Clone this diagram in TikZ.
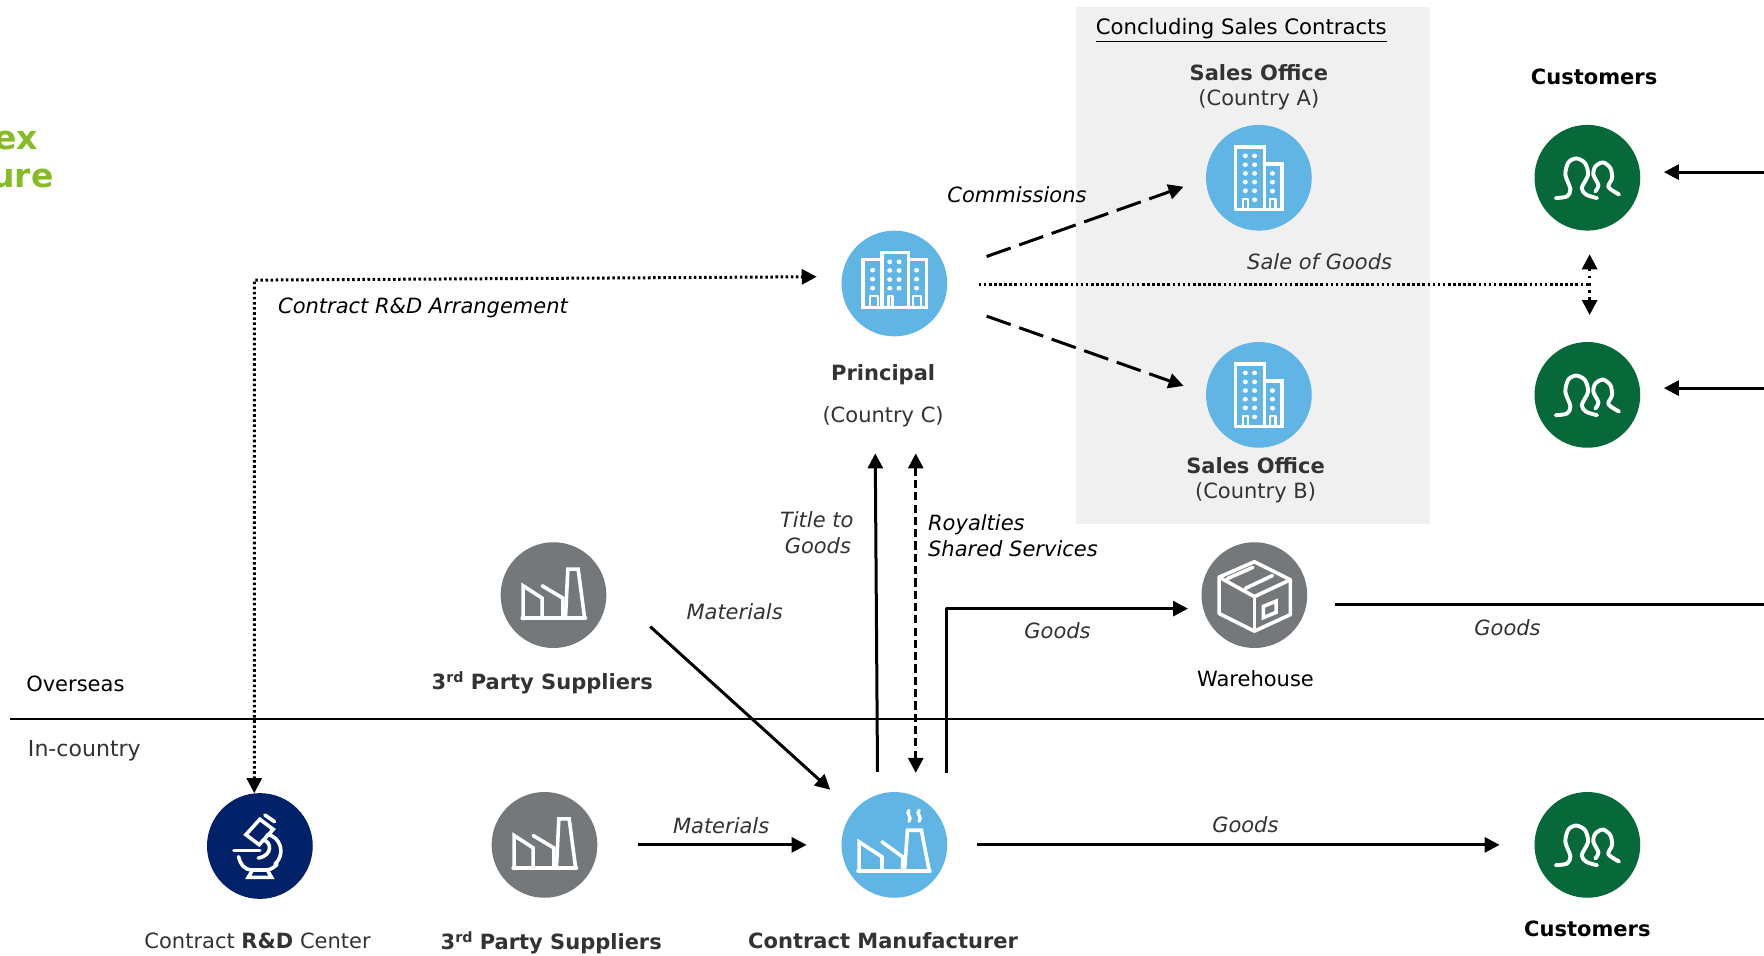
\documentclass[tikz,border=0pt]{standalone}
\usepackage{fontspec}
\setmainfont{DejaVu Sans}
\usetikzlibrary{arrows.meta,calc}
\definecolor{cblue}{HTML}{61B5E5}
\definecolor{cgreen}{HTML}{07693A}
\definecolor{cnavy}{HTML}{012169}
\definecolor{cgrey}{HTML}{75787B}
\definecolor{cpanel}{HTML}{F0F0F0}
\definecolor{ctext}{HTML}{333333}
\definecolor{clime}{HTML}{86BC25}
\tikzset{
  disc/.style={circle,minimum size=70.5pt,inner sep=0pt,outer sep=0pt,draw=none,fill=#1},
  lbl/.style={inner sep=0pt,outer sep=0pt,font=\fontsize{14}{16}\selectfont,text=black},
  lblb/.style={lbl,font=\fontsize{14}{16}\selectfont\bfseries,text=ctext},
  lblg/.style={lbl,text=ctext},
  lbli/.style={lbl,font=\fontsize{14}{16}\selectfont\itshape,text=ctext},
  icon/.style={draw=white,line width=2.4pt,line join=miter,line cap=round},
  thinicon/.style={draw=white,line width=1.6pt,line join=round,line cap=butt},
  conn/.style={draw=black,line width=2pt,-{Triangle[length=10pt,width=10pt]}},
  twotip/.style={draw=black,line width=2pt,{Triangle[length=10pt,width=10pt]}-{Triangle[length=10pt,width=10pt]}},
  plainconn/.style={draw=black,line width=2pt},
  dashlong/.style={dash pattern=on 17pt off 6pt},
  dashshort/.style={dash pattern=on 5.5pt off 2.7pt},
  dotline/.style={dash pattern=on 1.7pt off 1.7pt},
  dotsparse/.style={dash pattern=on 1.8pt off 3pt},
}
\newcommand{\supth}{3\raisebox{4.5pt}{\fontsize{9.5}{10}\selectfont rd}}
% factory drawn in zoom pixels about (1094,226)
\newcommand{\factoryicon}[1]{%
  \begin{scope}[shift={(#1)},scale=0.2963,shift={(-1094,-226)}]
    \draw[icon] (1003,297) -- (1003,198) -- (1060,235) -- (1060,292);
    \draw[icon] (1060,198) -- (1122,235) -- (1122,292);
    \draw[icon] (1130,292) -- (1137,148) -- (1168,148) -- (1187,292);
    \draw[icon] (1000,295) -- (1190,295);
  \end{scope}}
\newcommand{\plantwicon}[1]{%
  \begin{scope}[shift={(#1)},scale=0.3333,shift={(-223,-916)}]
    \draw[icon] (129,985) -- (129,908) -- (190,948) -- (190,985);
    \draw[icon] (190,908) -- (245,948) -- (245,985);
    \draw[icon] (250,985) -- (258,877) -- (295,877) -- (316,985);
    \draw[icon] (126,985) -- (318,985);
    \draw[icon,line width=2.2pt] (262,824) .. controls (252,832) and (272,842) .. (262,853);
    \draw[icon,line width=2.2pt] (289,824) .. controls (279,832) and (299,842) .. (289,853);
  \end{scope}}
\newcommand{\peopleicon}[1]{%
  \begin{scope}[shift={(#1)},scale=0.2963,shift={(-323,-234)}]
    \draw[icon,line width=2.6pt,line join=round,smooth] plot[tension=0.5] coordinates {(228,295) (262,290) (272,268) (257,225) (266,188) (290,176) (316,190) (325,225) (306,265) (320,285) (352,295)};
    \draw[icon,line width=2.6pt,line join=round,smooth] plot[tension=0.5] coordinates {(347,275) (356,256) (341,225) (347,200) (370,188) (392,205) (397,235) (386,262) (418,284)};
  \end{scope}}
\newcommand{\hqicon}[1]{%
  \begin{scope}[shift={(#1)},xscale=0.3175,yscale=0.2963,shift={(-320,-250)}]
    \draw[icon] (232,322) rectangle (285,178);
    \draw[icon] (285,322) -- (285,157) -- (360,157) -- (360,322);
    \draw[icon] (360,178) -- (410,178) -- (410,322) -- (232,322);
    \foreach \y in {210,237,264} {\fill[white] (259,\y) circle (7);\fill[white] (382,\y) circle (7);}
    \foreach \y in {185,211,238,264} {\fill[white] (307,\y) circle (7);\fill[white] (333,\y) circle (7);}
    \draw[thinicon] (251,320) -- (251,288) -- (274,288) -- (274,320);
    \draw[thinicon] (304,320) -- (304,288) -- (315,288) -- (315,320);
    \draw[thinicon] (372,320) -- (372,288) -- (394,288) -- (394,320);
  \end{scope}}
\newcommand{\officeicon}[1]{%
  \begin{scope}[shift={(#1)},xscale=0.3175,yscale=0.2963,shift={(-1341,-585)}]
    \draw[icon] (1276,680) -- (1276,492) -- (1357,492) -- (1357,680);
    \draw[icon] (1357,544) -- (1405,544) -- (1405,680) -- (1276,680);
    \foreach \y in {519,546,572,598,624} {\fill[white] (1303,\y) circle (7);\fill[white] (1329,\y) circle (7);}
    \fill[white] (1329,651) circle (7);
    \foreach \y in {572,598,625} {\fill[white] (1379,\y) circle (7);}
    \draw[thinicon] (1296,678) -- (1296,648) -- (1310,648) -- (1310,678);
    \draw[thinicon] (1372,678) -- (1372,648) -- (1388,648) -- (1388,678);
  \end{scope}}
\newcommand{\boxicon}[1]{%
  \begin{scope}[shift={(#1)},scale=0.3333,shift={(-1304,-166)}]
    \draw[icon,line join=round] (1304,77) -- (1400,125) -- (1400,218) -- (1304,262) -- (1210,215) -- (1210,118) -- cycle;
    \draw[icon,line join=round] (1210,118) -- (1304,170) -- (1400,125);
    \draw[icon] (1304,170) -- (1304,262);
    \draw[icon] (1232,122) -- (1300,92);
    \draw[icon] (1280,148) -- (1352,114);
    \draw[icon] (1328,196) -- (1362,182) -- (1362,212) -- (1328,226) -- cycle;
  \end{scope}}
\newcommand{\scopeicon}[1]{%
  \begin{scope}[shift={(#1)},scale=0.2963,shift={(-240,-226)}]
    \draw[icon] (198,192) -- (240,146) -- (280,176) -- (238,222) -- cycle;
    \draw[icon] (255,133) -- (284,153);
    \draw[icon] (162,240) -- (240,240);
    \draw[icon] (262,192) .. controls (300,195) and (320,250) .. (285,280);
    \draw[icon] (250,208) .. controls (275,212) and (280,255) .. (235,262);
    \draw[icon] (176,258) .. controls (180,280) and (195,298) .. (215,298) -- (262,298) .. controls (275,296) and (285,288) .. (292,280);
    \draw[icon] (218,298) -- (205,320) -- (275,320) -- (262,298);
  \end{scope}}
\begin{document}
\begin{tikzpicture}[x=0.75pt,y=-0.75pt]
\useasboundingbox (0,0) rectangle (1568,849);
\clip (0,0) rectangle (1568,849);
\fill[white] (0,0) rectangle (1568,849);
\fill[cpanel] (956,6) rectangle (1271,466);

% discs
\node[disc=cblue] (principal) at (795,252) {};
\node[disc=cblue] (salesA) at (1119,158) {};
\node[disc=cblue] (salesB) at (1119,351) {};
\node[disc=cgreen] (custA) at (1411,158) {};
\node[disc=cgreen] (custB) at (1411,351) {};
\node[disc=cgreen] (custC) at (1411,751) {};
\node[disc=cgrey] (house) at (1115,529) {};
\node[disc=cgrey] (supU) at (492,529) {};
\node[disc=cgrey] (supL) at (484,751) {};
\node[disc=cnavy] (lab) at (231,752) {};
\node[disc=cblue] (maker) at (795,751) {};

\hqicon{principal}
\officeicon{salesA}
\officeicon{salesB}
\peopleicon{custA}
\peopleicon{custB}
\peopleicon{custC}
\boxicon{house}
\factoryicon{supU}
\factoryicon{supL}
\scopeicon{lab}
\plantwicon{maker}

% free ends at the page edge and divider
\coordinate (edgeA) at (1568,153);
\coordinate (edgeB) at (1568,345);
\coordinate (edgeG) at (1568,537);
\coordinate (sepL) at (9,639);
\coordinate (sepR) at (1568,639);
\coordinate (saleFork) at (1413,253);
\coordinate (labBend) at (226,249);

% divider
\draw[black,line width=1pt] (sepL) -- (sepR);

% connectors
\draw[conn] (edgeA) -- ($(custA)+(68,-5)$);
\draw[conn] (edgeB) -- ($(custB)+(68,-6)$);
\draw[plainconn] ($(house)+(72,8)$) -- (edgeG);
\draw[conn,dashlong] ($(principal)+(82,-24)$) -- ($(salesA)+(-67,8)$);
\draw[conn,dashlong] ($(principal)+(82,29)$) -- ($(salesB)+(-67,-8)$);
\draw[plainconn,dotline] ($(principal)+(75,1)$) -- (saleFork);
\draw[twotip,dotsparse] ($(custA)+(2,68)$) -- ($(custB)+(2,-71)$);
\draw[twotip,dotline] ($(lab)+(-5,-47)$) -- (labBend) -- ($(principal)+(-69,-6)$);
\draw[conn] ($(maker)+(-15,-65)$) -- ($(principal)+(-17,151)$);
\draw[twotip,dashshort] ($(principal)+(19,151)$) -- ($(maker)+(19,-64)$);
\draw[conn,line join=round] ($(maker)+(46,-64)$) -- ($(maker)+(46,-210)$) -- ($(house)+(-59,12)$);
\draw[conn] ($(supU)+(86,28)$) -- ($(maker)+(-57,-49)$);
\draw[conn] ($(supL)+(83,0)$) -- ($(maker)+(-78,0)$);
\draw[conn] ($(maker)+(73,0)$) -- ($(custC)+(-78,0)$);

% labels
\node[lbl,anchor=east,font=\fontsize{22}{24}\selectfont\bfseries,text=clime] (t1) at (33.5,125) {ex};
\node[lbl,anchor=east,font=\fontsize{22}{24}\selectfont\bfseries,text=clime] (t2) at (47.5,159) {ure};
\node[lbl,anchor=west,font=\fontsize{14.15}{16}\selectfont] (t3) at (974,27) {\underline{Concluding Sales Contracts}};
\node[lblb] (t4) at (1119,65) {Sales Office};
\node[lblg] (t5) at (1119,89) {(Country A)};
\node[lblb,text=black] (t6) at (1417,68) {Customers};
\node[lbli,text=black] (t7) at (904,173) {Commissions};
\node[lbli] (t8) at (1173,233) {Sale of Goods};
\node[lbli,text=black] (t9) at (376,274) {Contract R\&D Arrangement};
\node[lblb] (t10) at (785,333) {Principal};
\node[lblg] (t11) at (785,370) {(Country C)};
\node[lblb] (t12) at (1116,414) {Sales Office};
\node[lblg] (t13) at (1116,438) {(Country B)};
\node[lbli] (t14) at (726,462) {Title to};
\node[lbli] (t15) at (727,485) {Goods};
\node[lbli,anchor=west,text=black] (t16) at (825,466) {Royalties};
\node[lbli,anchor=west,text=black] (t17) at (825,488) {Shared Services};
\node[lbli] (t18) at (653,544) {Materials};
\node[lbli] (t19) at (940,561) {Goods};
\node[lbli] (t20) at (1340,558) {Goods};
\node[lbl] (t21) at (1116,603) {Warehouse};
\node[lblb] (t22) at (482,607) {\supth{} Party Suppliers};
\node[lbl] (t23) at (67,608) {Overseas};
\node[lbl,font=\fontsize{14.7}{16}\selectfont,text=ctext] (t24) at (75,667) {In-country};
\node[lbli] (t25) at (641,734) {Materials};
\node[lbli] (t26) at (1107,733) {Goods};
\node[lblg] (t27) at (229,836) {Contract \textbf{R\&D} Center};
\node[lblb] (t28) at (490,838) {\supth{} Party Suppliers};
\node[lblb] (t29) at (785,836) {Contract Manufacturer};
\node[lblb,text=black] (t30) at (1411,826) {Customers};
\end{tikzpicture}
\end{document}
